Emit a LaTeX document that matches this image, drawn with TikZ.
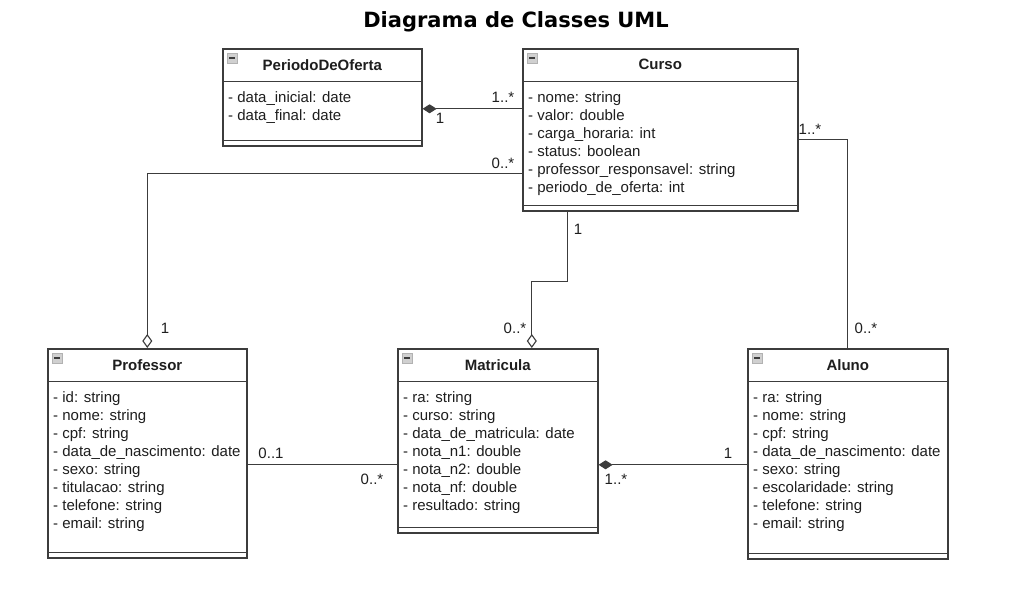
\documentclass[tikz,border=0pt]{standalone}
\usepackage{fontspec}
\setmainfont{Liberation Sans}
\newfontfamily\titlefont{DejaVu Sans}
\usetikzlibrary{positioning,arrows.meta}
\definecolor{linha}{HTML}{3C3C3C}
\definecolor{icone}{HTML}{D0D0D0}
\definecolor{texto}{HTML}{1E1E1E}

\begin{document}
\begin{tikzpicture}[
    x=1pt, y=-1pt,
    font=\fontsize{15}{18}\selectfont,
    text=texto,
    classe/.style={draw=linha, line width=1.6pt, anchor=north west, inner sep=0pt},
    cabecalho/.style={font=\fontsize{15}{18}\selectfont\bfseries, minimum height=33pt, inner sep=0pt, anchor=north},
    divisor/.style={draw=linha, line width=1.6pt},
    atributos/.style={align=left, anchor=north west, inner sep=0pt},
    caixinha/.style={draw=gray!60, fill=icone, minimum width=10pt, minimum height=10pt, inner sep=0pt, anchor=north west},
    assoc/.style={draw=linha, line width=1.1pt},
    agreg/.style={assoc, -{Diamond[open, length=14pt, width=10pt]}},
    comp/.style={assoc, -{Diamond[length=14pt, width=9pt]}},
    mult/.style={inner sep=0pt}
  ]
  \fill[white] (0,0) rectangle (1029,610);
  \useasboundingbox (0,0) rectangle (1029,610);

  \node[font={\fontsize{21}{24}\titlefont\bfseries}, text=black] (titulo) at (516,22) {Diagrama de Classes UML};

  % classes
  \foreach \nome/\px/\py/\larg/\alt/\rotulo/\campos in {
      periodo/222/48/199/97/PeriodoDeOferta/{- data\_inicial: date\\- data\_final: date},
      curso/522/48/275/162/Curso/{- nome: string\\- valor: double\\- carga\_horaria: int\\- status: boolean\\- professor\_responsavel: string\\- periodo\_de\_oferta: int},
      professor/47/348/199/209/Professor/{- id: string\\- nome: string\\- cpf: string\\- data\_de\_nascimento: date\\- sexo: string\\- titulacao: string\\- telefone: string\\- email: string},
      matricula/397/348/200/184/Matricula/{- ra: string\\- curso: string\\- data\_de\_matricula: date\\- nota\_n1: double\\- nota\_n2: double\\- nota\_nf: double\\- resultado: string},
      aluno/747/348/200/210/Aluno/{- ra: string\\- nome: string\\- cpf: string\\- data\_de\_nascimento: date\\- sexo: string\\- escolaridade: string\\- telefone: string\\- email: string}}
  {
    \node[classe, minimum width=\larg pt, minimum height=\alt pt] (\nome) at (\px,\py) {};
    \node[cabecalho, minimum width=\larg pt, below=0pt of \nome.north] (\nome Nome) {\rotulo};
    \draw[divisor] (\nome Nome.south west) -- (\nome Nome.south east);
    \draw[divisor] ([yshift=6pt]\nome.south west) -- ([yshift=6pt]\nome.south east);
    \node[caixinha, below right=5pt and 5pt of \nome.north west] (\nome Icone) {};
    \draw[linha, line width=1.8pt] ([xshift=2pt]\nome Icone.west) -- ([xshift=-2pt]\nome Icone.east);
    \node[atributos, below right=43pt and 6pt of \nome.north west] (\nome Campos) {\campos};
  }

  % associacoes
  \draw[comp] ([yshift=21pt]curso.west) -- ([yshift=-11.5pt]periodo.east);
  \draw[agreg] ([yshift=-44pt]curso.west) -| (professor.north);
  \draw[agreg] ([xshift=-92.5pt]curso.south) -- ++(0,-70pt) -| ([xshift=34pt]matricula.north);
  \draw[assoc] ([yshift=-10pt]curso.east) -| (aluno.north);
  \draw[assoc] ([yshift=-11.5pt]professor.east) -- ([yshift=-24pt]matricula.west);
  \draw[comp] ([yshift=-11pt]aluno.west) -- ([yshift=-24pt]matricula.east);

  % multiplicidades
  \node[mult] (m1) at (503,97) {1..*};
  \node[mult] (m2) at (440,118) {1};
  \node[mult] (m3) at (503,163) {0..*};
  \node[mult] (m4) at (165,328) {1};
  \node[mult] (m5) at (578,229) {1};
  \node[mult] (m6) at (515,328) {0..*};
  \node[mult] (m7) at (810,129) {1..*};
  \node[mult] (m8) at (866,328) {0..*};
  \node[mult] (m9) at (271,453) {0..1};
  \node[mult] (m10) at (372,479) {0..*};
  \node[mult] (m11) at (616,479) {1..*};
  \node[mult] (m12) at (728,453) {1};
\end{tikzpicture}
\end{document}
